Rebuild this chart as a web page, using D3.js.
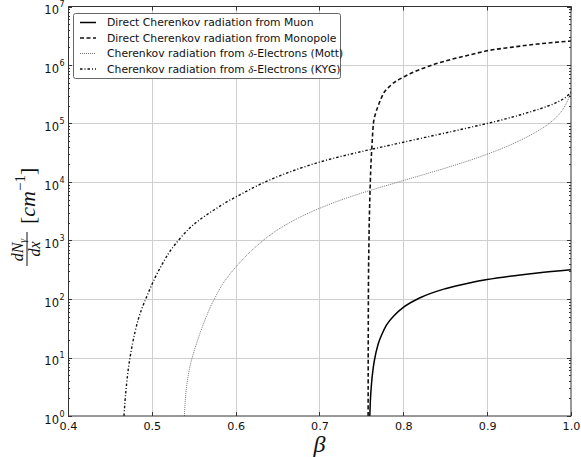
<!DOCTYPE html>
<html>
<head>
<meta charset="utf-8">
<script src="https://cdn.jsdelivr.net/npm/d3@7"></script>
<style>
  html, body { margin: 0; padding: 0; background: #fff; }
  svg { display: block; }
  text { font-family: "DejaVu Sans", sans-serif; fill: #111; }
</style>
</head>
<body>
<svg id="chart" width="581" height="457"></svg>
<script>
// Photon yield dN/dx versus beta, each series as [beta, value] pairs
const muon = [
  [0.7600, 1], [0.7605, 1.6], [0.7610, 2.2], [0.762, 3.5], [0.764, 6.5], [0.766, 9.8],
  [0.770, 17], [0.775, 26], [0.780, 36], [0.790, 54], [0.800, 72], [0.820, 105],
  [0.850, 150], [0.880, 190], [0.900, 215], [0.930, 248], [0.960, 279], [1.000, 316]
];
const monopole = [
  [0.7580, 1], [0.7581, 10], [0.7583, 100], [0.7590, 1000], [0.7600, 5000], [0.7610, 15000],
  [0.7625, 40000], [0.7643, 100000], [0.767, 150000], [0.770, 200000], [0.776, 320000],
  [0.785, 450000], [0.800, 620000], [0.820, 840000], [0.836, 1020000], [0.850, 1170000],
  [0.880, 1500000], [0.900, 1750000], [0.930, 2020000], [0.960, 2280000], [1.000, 2570000]
];
const mott = [
  [0.5388, 1], [0.5400, 1.91], [0.5420, 3.63], [0.5450, 6.52], [0.5496, 11.7], [0.5550, 20.4],
  [0.5600, 32.7], [0.5660, 54.6], [0.5700, 74.0], [0.5754, 105], [0.5830, 167], [0.5920, 253],
  [0.6010, 363], [0.6110, 519], [0.6210, 716], [0.6310, 955], [0.6450, 1361], [0.6600, 1858],
  [0.6750, 2432], [0.6900, 3076], [0.7100, 4055], [0.7300, 5176], [0.7500, 6457], [0.7700, 7907],
  [0.7900, 9594], [0.8100, 11641], [0.8300, 14158], [0.8500, 17258], [0.8700, 21232],
  [0.8900, 26485], [0.9100, 33806], [0.9300, 44566], [0.9500, 61518], [0.9650, 81942],
  [0.9750, 103156], [0.9800, 118468], [0.9870, 150866], [0.9930, 201651], [0.9970, 265826],
  [1.0000, 345538]
];
const kyg = [
  [0.4668, 1], [0.4680, 1.78], [0.4700, 3.63], [0.4720, 6.46], [0.4740, 10], [0.4770, 17.4],
  [0.4800, 27.5], [0.4840, 45.7], [0.4880, 67.6], [0.4927, 100], [0.4980, 151], [0.5040, 234],
  [0.5110, 363], [0.5200, 603], [0.5316, 1000], [0.5450, 1622], [0.5600, 2427], [0.5750, 3388],
  [0.5900, 4624], [0.6050, 6026], [0.6200, 7852], [0.6350, 10000], [0.6550, 13183],
  [0.6750, 16788], [0.7000, 21878], [0.7250, 27227], [0.7500, 33113], [0.7750, 39811],
  [0.8000, 47863], [0.8300, 59566], [0.8600, 74131], [0.8800, 86099], [0.9000, 100000],
  [0.9200, 118032], [0.9400, 141254], [0.9550, 164059], [0.9700, 192752], [0.9800, 218776],
  [0.9870, 245471], [0.9930, 275423], [0.9970, 309030], [1.0000, 346737]
];

const xTicks = [0.4, 0.5, 0.6, 0.7, 0.8, 0.9, 1.0];
const yExponents = [0, 1, 2, 3, 4, 5, 6, 7];

const seriesLabels = [
  "Direct Cherenkov radiation from Muon",
  "Direct Cherenkov radiation from Monopole",
  "Cherenkov radiation from |-Electrons (Mott)",
  "Cherenkov radiation from |-Electrons (KYG)"
];

const svg = d3.select("#chart");
const L = 68, R = 571, T = 6.5, B = 416;

const x = d3.scaleLinear().domain([0.4, 1.0]).range([L, R]);
const y = d3.scaleLog().domain([1, 1e7]).range([B, T]);

// grid
const grid = svg.append("g").attr("stroke", "#cfcfcf").attr("stroke-width", 1);
xTicks.slice(1, -1).forEach(t => {
  grid.append("line").attr("x1", Math.round(x(t)) + 0.5).attr("x2", Math.round(x(t)) + 0.5)
    .attr("y1", T).attr("y2", B);
});
yExponents.slice(1, -1).forEach(e => {
  grid.append("line").attr("x1", L).attr("x2", R)
    .attr("y1", Math.round(y(Math.pow(10, e))) + 0.5).attr("y2", Math.round(y(Math.pow(10, e))) + 0.5);
});

// curves
svg.append("clipPath").attr("id", "plotclip").append("rect")
  .attr("x", L).attr("y", T).attr("width", R - L).attr("height", B - T);

const line = d3.line().x(d => x(d[0])).y(d => y(d[1])).curve(d3.curveMonotoneX);
const styles = [
  { data: muon, stroke: "#000", width: 1.5, dash: null },
  { data: monopole, stroke: "#111", width: 1.6, dash: "4,2.5" },
  { data: mott, stroke: "#777", width: 1, dash: "1,1" },
  { data: kyg, stroke: "#111", width: 1.4, dash: "2.5,2,1,2" }
];
const curves = svg.append("g").attr("clip-path", "url(#plotclip)");
styles.forEach(s => {
  curves.append("path").attr("d", line(s.data)).attr("fill", "none")
    .attr("stroke", s.stroke).attr("stroke-width", s.width)
    .attr("stroke-dasharray", s.dash);
});

// ticks (inward on all sides)
const tk = svg.append("g").attr("stroke", "#333").attr("stroke-width", 1);
xTicks.forEach(t => {
  const px = Math.round(x(t)) + 0.5;
  tk.append("line").attr("x1", px).attr("x2", px).attr("y1", B).attr("y2", B - 4);
  tk.append("line").attr("x1", px).attr("x2", px).attr("y1", T).attr("y2", T + 4);
});
yExponents.forEach(e => {
  const py = Math.round(y(Math.pow(10, e))) + 0.5;
  tk.append("line").attr("x1", L).attr("x2", L + 4).attr("y1", py).attr("y2", py);
  tk.append("line").attr("x1", R).attr("x2", R - 4).attr("y1", py).attr("y2", py);
  if (e < 7) {
    for (let m = 2; m <= 9; m++) {
      const pm = Math.round(y(m * Math.pow(10, e))) + 0.5;
      tk.append("line").attr("x1", L).attr("x2", L + 2).attr("y1", pm).attr("y2", pm);
      tk.append("line").attr("x1", R).attr("x2", R - 2).attr("y1", pm).attr("y2", pm);
    }
  }
});

// frame
svg.append("rect").attr("x", L + 0.5).attr("y", T).attr("width", R - L - 0.5).attr("height", B - T)
  .attr("fill", "none").attr("stroke", "#333").attr("stroke-width", 1);

// tick labels
xTicks.forEach(t => {
  svg.append("text").attr("x", x(t) + 0.5).attr("y", 429.5).attr("text-anchor", "middle")
    .attr("font-size", "11.2px").text(t.toFixed(1));
});
yExponents.forEach(e => {
  const gy = y(Math.pow(10, e));
  svg.append("text").attr("x", 59).attr("y", gy + 7.5).attr("text-anchor", "end")
    .attr("font-size", "11.5px").text("10");
  svg.append("text").attr("x", 59.5).attr("y", gy + 0.5).attr("font-size", "8px").text(String(e));
});

// axis labels
svg.append("text").attr("x", (L + R) / 2).attr("y", 452).attr("text-anchor", "middle")
  .style("font-family", "'Liberation Serif', serif").style("font-style", "italic")
  .attr("font-size", "24px").text("β");

const serif = "'Liberation Serif', serif";
const yl = svg.append("g").attr("transform", "translate(27,216) rotate(-90)");
// fraction dN_gamma / dx
yl.append("line").attr("x1", -50).attr("x2", -16).attr("y1", 0).attr("y2", 0)
  .attr("stroke", "#111").attr("stroke-width", 1);
const num = yl.append("text").attr("x", -34).attr("y", -4).attr("text-anchor", "middle")
  .style("font-family", serif).style("font-style", "italic").attr("font-size", "16px");
num.append("tspan").text("dN");
num.append("tspan").attr("font-size", "10px").attr("dy", 3).text("γ");
yl.append("text").attr("x", -33).attr("y", 12.5).attr("text-anchor", "middle")
  .style("font-family", serif).style("font-style", "italic").attr("font-size", "16px").text("dx");
const br = yl.append("text").attr("x", -8).attr("y", 8)
  .style("font-family", serif).attr("font-size", "22px");
br.append("tspan").text("[");
br.append("tspan").style("font-style", "italic").text("cm");
br.append("tspan").attr("font-size", "15px").attr("dy", -10).text("−1");
br.append("tspan").attr("dy", 10).text("]");

// legend
const lg = svg.append("g");
lg.append("rect").attr("x", 73.5).attr("y", 13.5).attr("width", 267).attr("height", 65)
  .attr("rx", 2).attr("fill", "#fff").attr("stroke", "#666").attr("stroke-width", 1);
styles.forEach((s, i) => {
  const ly = 22.5 + i * 15.5;
  lg.append("line").attr("x1", 80).attr("x2", 96).attr("y1", ly).attr("y2", ly)
    .attr("stroke", s.stroke).attr("stroke-width", s.width).attr("stroke-dasharray", s.dash);
  const t = lg.append("text").attr("x", 107).attr("y", ly + 3.8).attr("font-size", "10.8px");
  const parts = seriesLabels[i].split("|");
  t.append("tspan").text(parts[0]);
  if (parts.length > 1) {
    t.append("tspan").style("font-family", serif).style("font-style", "italic").text("δ");
    t.append("tspan").text(parts[1]);
  }
});
</script>
</body>
</html>
